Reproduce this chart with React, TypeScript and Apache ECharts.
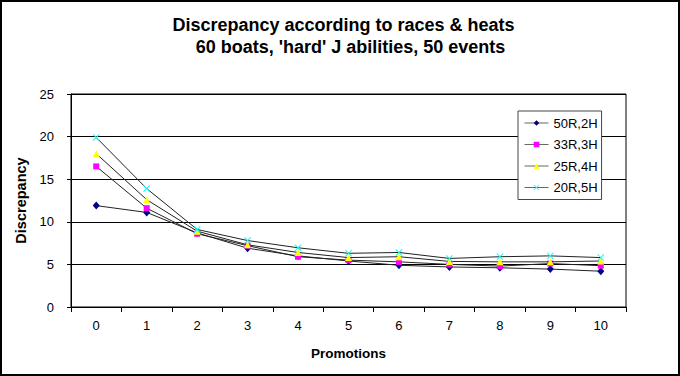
import React, { useEffect, useRef } from "react";
import * as echarts from "echarts";

const promotions = ["0", "1", "2", "3", "4", "5", "6", "7", "8", "9", "10"];
const seriesNames = ["50R,2H", "33R,3H", "25R,4H", "20R,5H"];
const r50h2 = [11.9, 11.1, 8.7, 6.9, 6.0, 5.4, 4.9, 4.7, 4.6, 4.45, 4.2];
const r33h3 = [16.5, 11.6, 8.6, 7.2, 5.9, 5.5, 5.3, 5.0, 4.8, 5.1, 4.85];
const r25h4 = [18.0, 12.6, 8.9, 7.3, 6.4, 5.8, 5.9, 5.35, 5.3, 5.3, 5.4];
const r20h5 = [19.9, 13.9, 9.1, 7.8, 6.95, 6.3, 6.4, 5.7, 5.9, 6.0, 5.8];
const titleLine1 = "Discrepancy according to races & heats";
const titleLine2 = "60 boats, 'hard' J abilities, 50 events";

const FONT = '"Liberation Sans", Arial, sans-serif';
const X_PATH = "path://M0,1L1,0L5,4L9,0L10,1L6,5L10,9L9,10L5,6L1,10L0,9L4,5Z";

export default function App() {
  const ref = useRef<HTMLDivElement>(null);
  useEffect(() => {
    if (!ref.current) return;
    const chart = echarts.init(ref.current, undefined, { renderer: "svg" });
    const data = [r50h2, r33h3, r25h4, r20h5];
    const colors = ["#000080", "#FF00FF", "#FFFF00", "#00FFFF"];
    const symbols = ["diamond", "rect", "triangle", X_PATH];
    const sizes = [[7, 8], 6, 7, 7];
    chart.setOption({
      animation: false,
      backgroundColor: "#fff",
      textStyle: { fontFamily: FONT },
      grid: {
        left: 71,
        right: 54,
        top: 94,
        bottom: 69,
        show: true,
        borderColor: "#000",
        borderWidth: 1,
      },
      legend: {
        orient: "vertical",
        left: 518,
        top: 111,
        backgroundColor: "#fff",
        borderColor: "#444",
        borderWidth: 1,
        borderRadius: 0,
        padding: [5, 4, 5, 6],
        itemGap: 7.5,
        itemWidth: 24,
        itemHeight: 7,
        lineStyle: { color: "#666", width: 1 },
        textStyle: { fontSize: 13, color: "#000", fontFamily: FONT, lineHeight: 14 },
        data: seriesNames,
      },
      xAxis: {
        type: "category",
        data: promotions,
        boundaryGap: true,
        name: "Promotions",
        nameLocation: "middle",
        nameGap: 39,
        nameTextStyle: { fontSize: 13.5, fontWeight: "bold", color: "#000", fontFamily: FONT },
        axisLine: { lineStyle: { color: "#000", width: 1 } },
        axisTick: { show: true, interval: 0, length: 5, lineStyle: { color: "#000" } },
        axisLabel: { interval: 0, fontSize: 13, color: "#000", margin: 12, fontFamily: FONT },
        splitLine: { show: false },
      },
      yAxis: {
        type: "value",
        min: 0,
        max: 25,
        interval: 5,
        name: "Discrepancy",
        nameLocation: "middle",
        nameGap: 43,
        nameRotate: 90,
        nameTextStyle: { fontSize: 14.5, fontWeight: "bold", color: "#000", fontFamily: FONT },
        axisLine: { show: true, lineStyle: { color: "#000", width: 1 } },
        axisTick: { show: true, length: 4, lineStyle: { color: "#000" } },
        axisLabel: { fontSize: 13, color: "#000", margin: 17, fontFamily: FONT },
        splitLine: { show: true, lineStyle: { color: "#000", width: 1 } },
      },
      graphic: [
        {
          type: "rect",
          shape: { x: 1, y: 1, width: 678, height: 374 },
          style: { fill: "none", stroke: "#000", lineWidth: 2 },
          silent: true,
        },
        {
          type: "text",
          x: 343.5,
          y: 25,
          style: {
            text: titleLine1,
            fontSize: 18,
            fontWeight: "bold",
            fontFamily: FONT,
            fill: "#000",
            align: "center",
            verticalAlign: "middle",
          },
        },
        {
          type: "text",
          x: 350.5,
          y: 47,
          style: {
            text: titleLine2,
            fontSize: 18,
            fontWeight: "bold",
            fontFamily: FONT,
            fill: "#000",
            align: "center",
            verticalAlign: "middle",
          },
        },
      ],
      series: seriesNames.map((name, i) => ({
        name,
        type: "line",
        data: data[i],
        symbol: symbols[i],
        symbolSize: sizes[i],
        showSymbol: true,
        lineStyle: { color: "#222", width: 1 },
        itemStyle: { color: colors[i], borderWidth: 0 },
        emphasis: { disabled: true },
        z: 2 + i,
      })),
    });
    return () => chart.dispose();
  }, []);
  return (
    <div
      ref={ref}
      style={{ position: "fixed", left: 0, top: 0, width: 680, height: 376 }}
    />
  );
}
